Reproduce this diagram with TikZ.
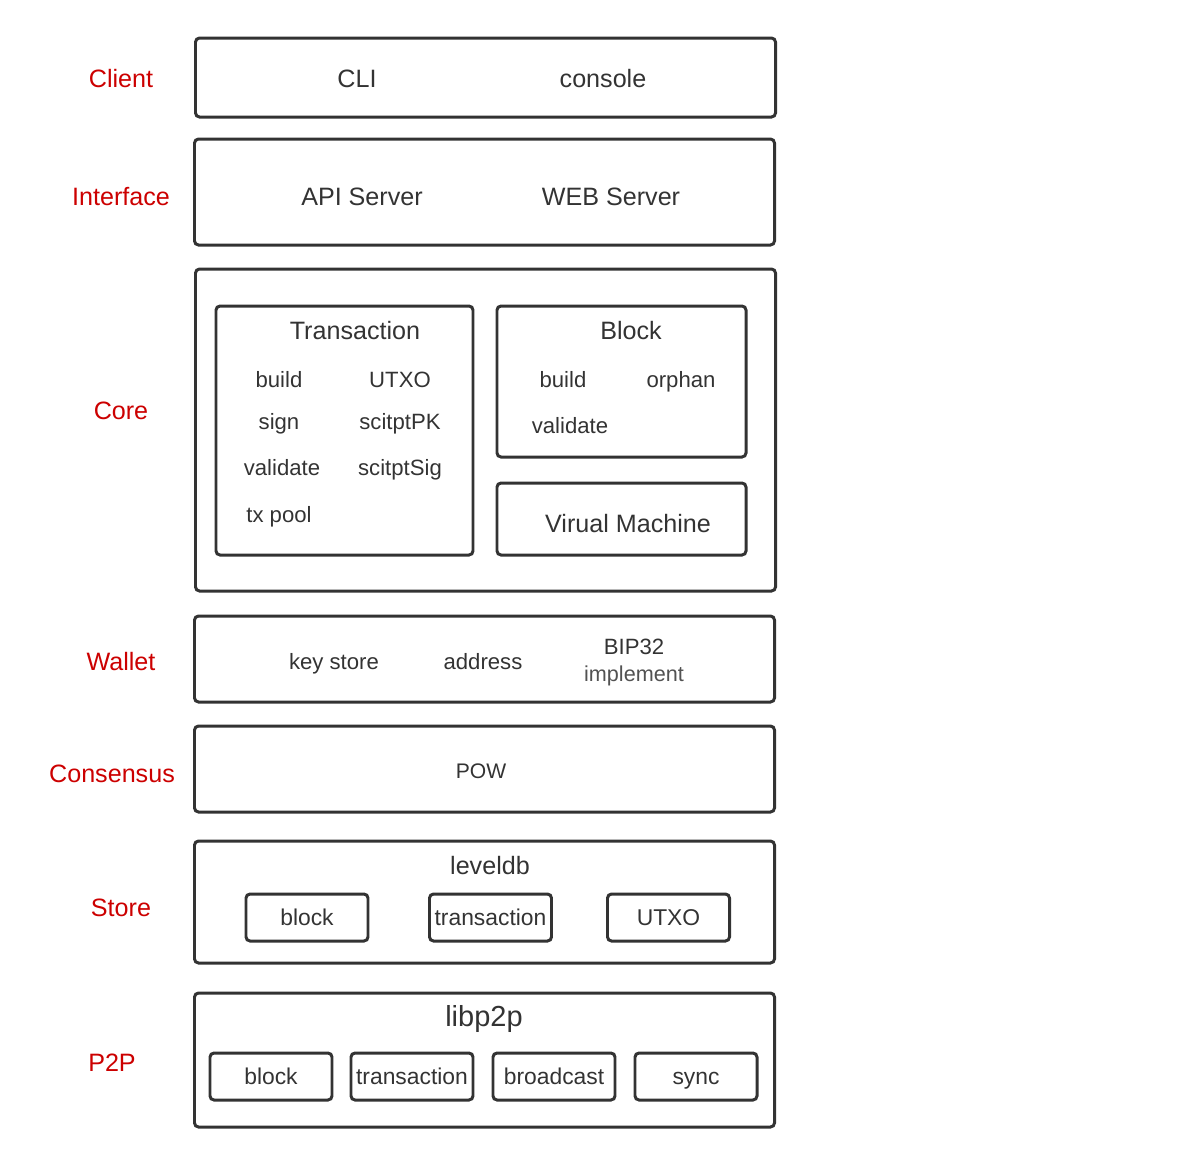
\documentclass[tikz,border=0pt]{standalone}
\usepackage{fontspec}
\setmainfont{Liberation Sans}
\usepackage{tikz}
\usetikzlibrary{positioning}
\definecolor{ink}{HTML}{333333}
\definecolor{lblred}{HTML}{CC0000}

\begin{document}
\begin{tikzpicture}[
  font=\fontsize{14.3}{16}\selectfont, text=ink,
  every node/.append style={text height=10.4pt, text depth=0pt},
  layer/.style={rectangle, rounded corners=2.3pt, draw=ink, line width=1.7pt,
                minimum width=11.6cm, inner sep=0},
  part/.style={rectangle, rounded corners=2.3pt, draw=ink, line width=1.7pt,
               minimum width=4.98cm, inner sep=0},
  cell/.style={rectangle, rounded corners=2.3pt, draw=ink, line width=1.7pt,
               minimum width=2.44cm, minimum height=0.94cm, inner sep=0,
               font=\fontsize{13}{15}\selectfont, text height=9.5pt},
  lbl/.style={text=lblred, font=\fontsize{14.3}{16}\selectfont},
  item/.style={font=\fontsize{12.6}{15}\selectfont, text height=9.2pt},
]
\useasboundingbox (0,0) rectangle (23.72,-23.28);

% layers
\node[layer, minimum height=1.58cm] (client) at (9.71,-1.55)  {};
\node[layer, minimum height=2.12cm] (iface)  at (9.69,-3.84)  {};
\node[layer, minimum height=6.44cm] (core)   at (9.71,-8.60)  {};
\node[layer, minimum height=1.72cm] (wallet) at (9.69,-13.18) {};
\node[layer, minimum height=1.72cm] (cons)   at (9.69,-15.38) {};
\node[layer, minimum height=2.44cm] (store)  at (9.69,-18.04) {};
\node[layer, minimum height=2.68cm] (ptp)    at (9.69,-21.20) {};

% layer names
\node[lbl] (lclient) at (2.42,-1.56)  {Client};
\node[lbl] (liface)  at (2.42,-3.92)  {Interface};
\node[lbl] (lcore)   at (2.42,-8.20)  {Core};
\node[lbl] (lwallet) at (2.42,-13.22) {Wallet};
\node[lbl] (lcons)   at (2.24,-15.46) {Consensus};
\node[lbl] (lstore)  at (2.42,-18.14) {Store};
\node[lbl] (lptp)    at (2.24,-21.24) {P2P};

% client, interface
\node (cli)     at (7.14,-1.56)  {CLI};
\node (console) at (12.06,-1.56) {console};
\node (api)     at (7.24,-3.92)  {API Server};
\node (web)     at (12.22,-3.92) {WEB Server};

% core
\node[part, minimum width=5.14cm, minimum height=4.98cm] (tx) at (6.89,-8.61) {};
\node[part, minimum height=3.02cm] (blk) at (12.43,-7.63)  {};
\node[part, minimum height=1.44cm] (vm)  at (12.43,-10.38) {};

\node (txt) at (7.10,-6.60) {Transaction};
\node[item] (txbuild) at (5.58,-7.58)  {build};
\node[item] (txutxo)  at (8.00,-7.58)  {UTXO};
\node[item] (txsign)  at (5.58,-8.42)  {sign};
\node[item] (txpk)    at (8.00,-8.42)  {scitptPK};
\node[item] (txval)   at (5.64,-9.34)  {validate};
\node[item] (txsig)   at (8.00,-9.34)  {scitptSig};
\node[item] (txpool)  at (5.58,-10.28) {tx pool};

\node (blkt) at (12.62,-6.60) {Block};
\node[item] (bbuild)  at (11.26,-7.58) {build};
\node[item] (borphan) at (13.62,-7.58) {orphan};
\node[item] (bval)    at (11.40,-8.50) {validate};
\node (vmt) at (12.56,-10.46) {Virual Machine};

% wallet, consensus
\node[item] (keys) at (6.68,-13.22)  {key store};
\node[item] (addr) at (9.66,-13.22)  {address};
\node[item] (bip)  at (12.68,-12.92) {BIP32};
\node[item, font=\fontsize{12.3}{15}\selectfont, text=ink!85] (impl) at (12.68,-13.46) {implement};
\node[item, font=\fontsize{12}{15}\selectfont] (pow) at (9.62,-15.40) {POW};

% store
\node (ldb) at (9.80,-17.30) {leveldb};
\node[cell] (sblock) at (6.14,-18.35)  {block};
\node[cell] (stx)    at (9.81,-18.35)  {transaction};
\node[cell] (sutxo)  at (13.37,-18.35) {UTXO};

% p2p
\node[font=\fontsize{16.5}{18}\selectfont, text height=12pt] (lp2p) at (9.68,-20.32) {libp2p};
\node[cell] (pblock) at (5.42,-21.53)  {block};
\node[cell] (ptx)    at (8.24,-21.53)  {transaction};
\node[cell] (pbc)    at (11.08,-21.53) {broadcast};
\node[cell] (psync)  at (13.92,-21.53) {sync};

\end{tikzpicture}
\end{document}
